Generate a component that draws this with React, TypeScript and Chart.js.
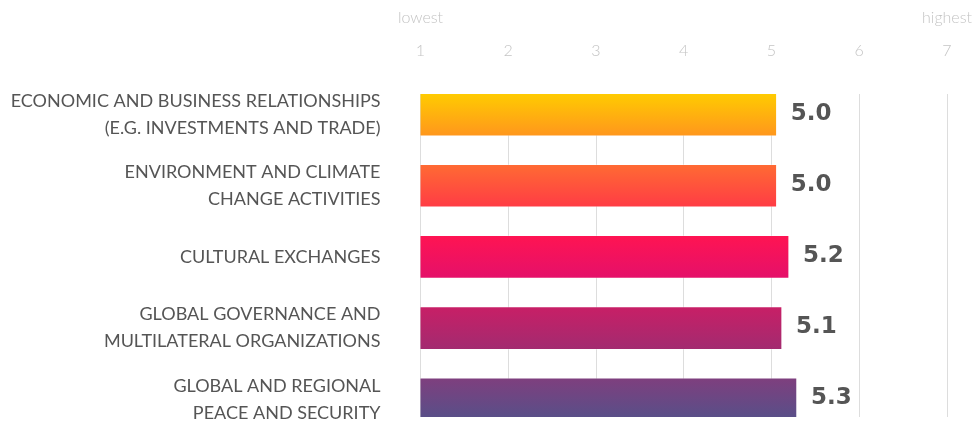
import React, { useEffect, useRef } from "react";
import { Chart, registerables } from "chart.js";

Chart.register(...registerables);

const categories: string[][] = [
  ["ECONOMIC AND BUSINESS RELATIONSHIPS", "(E.G. INVESTMENTS AND TRADE)"],
  ["ENVIRONMENT AND CLIMATE", "CHANGE ACTIVITIES"],
  ["CULTURAL EXCHANGES"],
  ["GLOBAL GOVERNANCE AND", "MULTILATERAL ORGANIZATIONS"],
  ["GLOBAL AND REGIONAL", "PEACE AND SECURITY"],
];
const values = [5.06, 5.06, 5.2, 5.12, 5.29];
const valueLabels = ["5.0", "5.0", "5.2", "5.1", "5.3"];
const scaleTicks = [1, 2, 3, 4, 5, 6, 7];
const endLabels: Record<number, string> = { 1: "lowest", 7: "highest" };
const barTop = ["#FFCC00", "#FF6B33", "#FF1452", "#C81F66", "#7F3F7E"];
const barBottom = ["#FF961D", "#FF3B45", "#E4106A", "#A22B70", "#565089"];

const valueLabelPlugin = {
  id: "valueLabels",
  afterDatasetsDraw(chart: any) {
    const ctx = chart.ctx;
    const meta = chart.getDatasetMeta(0);
    ctx.save();
    ctx.font = "bold 23px 'DejaVu Sans'";
    ctx.fillStyle = "#555555";
    ctx.textAlign = "left";
    ctx.textBaseline = "middle";
    meta.data.forEach((el: any, i: number) => {
      ctx.fillText(valueLabels[i], el.x + 14, el.y - 1);
    });
    ctx.restore();
  },
};

export default function App() {
  const ref = useRef<HTMLCanvasElement>(null);
  useEffect(() => {
    if (!ref.current) return;
    const chart = new Chart(ref.current, {
      type: "bar",
      data: {
        datasets: [
          {
            data: values.map((v, i) => ({ x: v, y: i })),
            barThickness: 43,
            borderWidth: 1,
            borderColor: "rgba(255,255,255,0.3)",
            backgroundColor: (c: any) => {
              const ch = c.chart;
              const i = c.dataIndex;
              if (!ch.chartArea || i === undefined) return barTop[i ?? 0];
              const yc = ch.scales.y.getPixelForValue(i);
              const g = ch.ctx.createLinearGradient(0, yc - 21.5, 0, yc + 21.5);
              g.addColorStop(0, barTop[i]);
              g.addColorStop(1, barBottom[i]);
              return g;
            },
          },
        ],
      },
      options: {
        indexAxis: "y",
        animation: false,
        responsive: false,
        maintainAspectRatio: false,
        devicePixelRatio: 1,
        layout: { padding: { top: 0, right: 27, bottom: 9, left: 0 } },
        plugins: { legend: { display: false }, tooltip: { enabled: false } },
        scales: {
          x: {
            type: "linear",
            position: "top",
            min: 1,
            max: 7,
            afterBuildTicks: (s: any) => {
              s.ticks = scaleTicks.map((v) => ({ value: v }));
            },
            afterFit: (s: any) => {
              s.height = 94;
              s.paddingLeft = 0;
              s.paddingRight = 0;
              s.paddingTop = 0;
              s.paddingBottom = 0;
            },
            ticks: {
              autoSkip: false,
              maxRotation: 0,
              padding: 27,
              color: "#c4c4c4",
              font: { family: "Lato", size: 16, weight: 300, lineHeight: 2.06 },
              callback: (v: any) => [endLabels[v] ?? "", String(v)],
            },
            grid: { color: "#dddddd", lineWidth: 1, drawTicks: false },
            border: { display: false },
          },
          y: {
            type: "linear",
            reverse: true,
            offset: false,
            bounds: "data",
            grace: 0,
            min: -0.29,
            max: 4.25,
            afterBuildTicks: (s: any) => {
              s.ticks = categories.map((_, i) => ({ value: i }));
            },
            afterFit: (s: any) => {
              s.width = 420.5;
              s.paddingLeft = 0;
              s.paddingRight = 0;
              s.paddingTop = 0;
              s.paddingBottom = 0;
            },
            ticks: {
              autoSkip: false,
              padding: 40,
              color: "#555555",
              font: { family: "Lato", size: 18, lineHeight: 1.5 },
              callback: (v: any) => categories[v],
            },
            grid: { display: false, drawTicks: false, offset: false },
            border: { display: false },
          },
        },
      },
      plugins: [valueLabelPlugin],
    } as any);
    return () => chart.destroy();
  }, []);
  return (
    <div style={{ position: "fixed", left: 0, top: 0, width: 974, height: 426, background: "#fff" }}>
      <canvas ref={ref} width={974} height={426} style={{ display: "block", width: 974, height: 426 }} />
    </div>
  );
}
